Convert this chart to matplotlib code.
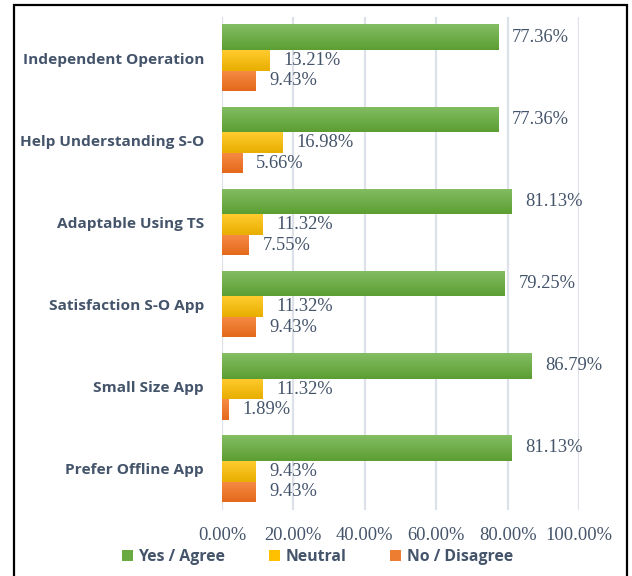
import numpy as np
import matplotlib.pyplot as plt
from matplotlib.patches import Rectangle
from matplotlib.colors import LinearSegmentedColormap

categories = ['Independent Operation', 'Help Understanding S-O', 'Adaptable Using TS',
              'Satisfaction S-O App', 'Small Size App', 'Prefer Offline App']
yes_agree = [77.36, 77.36, 81.13, 79.25, 86.79, 81.13]
neutral = [13.21, 16.98, 11.32, 11.32, 11.32, 9.43]
no_disagree = [9.43, 5.66, 7.55, 9.43, 1.89, 9.43]
series_names = ['Yes / Agree', 'Neutral', 'No / Disagree']
xticks = [0, 20, 40, 60, 80, 100]

text_col = '#44546A'
# (top colour, bottom colour, legend colour) for each series
shades = [('#84BD63', '#5C9E33', '#6AAB41'),
          ('#FFCB2E', '#E8AE00', '#FFC000'),
          ('#F68B44', '#E4691B', '#ED7D31')]
heights = [0.31, 0.255, 0.245]
sans = {'family': 'Open Sans', 'weight': 'bold', 'size': 11.4}

fig = plt.figure(figsize=(6.32, 5.76), dpi=100)
ax = fig.add_axes([222 / 632, 1 - 510 / 576, (579 - 222) / 632, (510 - 17) / 576])

y = np.arange(len(categories))
start = -0.41
for vals, h, (c_top, c_bot, c_leg), name in zip([yes_agree, neutral, no_disagree],
                                                 heights, shades, series_names):
    centers = y + start + h / 2
    bars = ax.barh(centers, vals, height=h, color=c_leg, label=name, zorder=2)
    cmap = LinearSegmentedColormap.from_list(name, [c_top, c_bot])
    grad = np.linspace(0, 1, 32).reshape(-1, 1)
    for b in bars:
        x0, y0 = b.get_x(), b.get_y()
        im = ax.imshow(grad, cmap=cmap, aspect='auto', zorder=3,
                       extent=[x0, x0 + b.get_width(), y0 + b.get_height(), y0])
        im.set_clip_path(b)
    for c, v in zip(centers, vals):
        ax.annotate(f'{v:.2f}%', (v, c), xytext=(10, 0), textcoords='offset points',
                    ha='left', va='center', fontsize=13.3, color=text_col,
                    family='Liberation Serif')
    start += h

ax.set_ylim(len(categories) - 0.5, -0.5)
ax.set_xlim(0, 100)
ax.set_xticks(xticks)
ax.set_xticklabels([f'{t:.2f}%' for t in xticks], family='Liberation Serif',
                   fontsize=13.3, color=text_col)
ax.set_yticks(y)
ax.set_yticklabels(categories, fontdict=dict(sans, size=11.1), color=text_col)
ax.tick_params(axis='both', length=0)
ax.tick_params(axis='x', pad=12)
ax.tick_params(axis='y', pad=13)
ax.grid(axis='x', color='#DDE2EA', linewidth=1.6, zorder=0)
ax.set_axisbelow(True)
for s in ax.spines.values():
    s.set_visible(False)

leg = fig.legend(*ax.get_legend_handles_labels(), loc='center', ncol=3,
                 bbox_to_anchor=(0.502, 1 - 557 / 576), frameon=False,
                 prop=sans, handlelength=0.7, handleheight=0.7,
                 handletextpad=0.35, columnspacing=2.75)
for t in leg.get_texts():
    t.set_color(text_col)

fig.patches.append(Rectangle((14 / 632, -0.01), (627 - 14) / 632, 1.01 - 5 / 576,
                             transform=fig.transFigure, fill=False,
                             edgecolor='black', linewidth=1.6))

fig.savefig('out.png', dpi=100)
